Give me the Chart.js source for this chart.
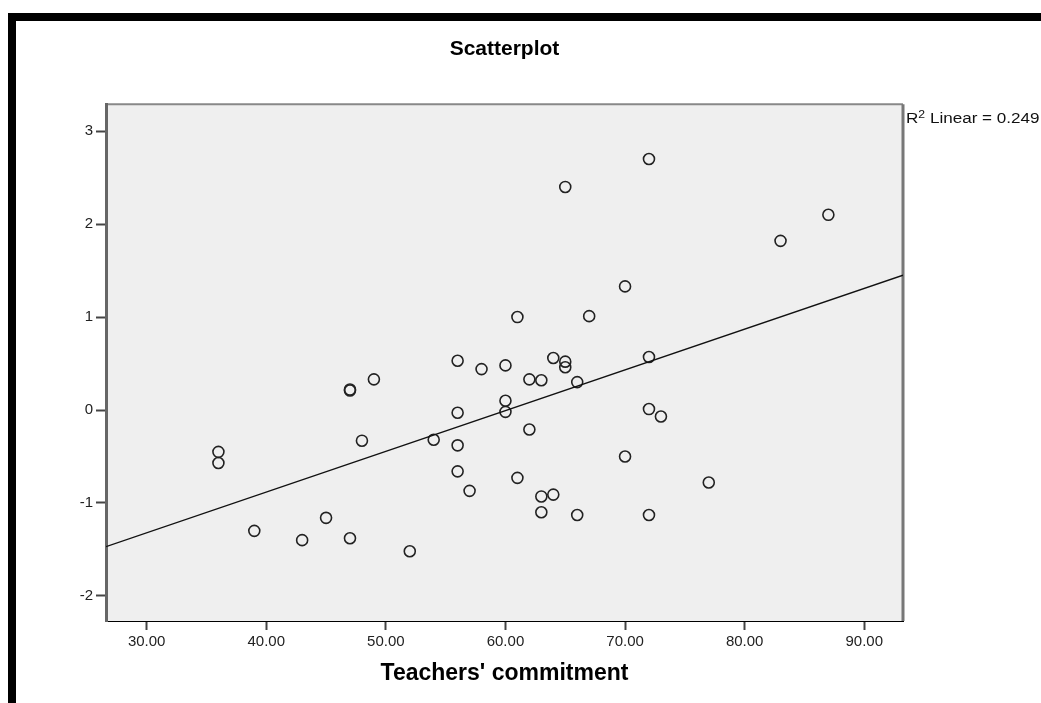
<!DOCTYPE html>
<html>
<head>
<meta charset="utf-8">
<script src="https://cdn.jsdelivr.net/npm/chart.js@4"></script>
<style>
  html, body { margin: 0; padding: 0; background: #fff; overflow: hidden; }
  #wrap { position: relative; width: 1041px; height: 703px; overflow: hidden; }
  #frame { position: absolute; left: 8px; top: 13px; width: 1100px; height: 800px;
           border-top: 8px solid #000; border-left: 8px solid #000; }
  #r2 { position: absolute; left: 906px; top: 108px; font: 14px "Liberation Sans", Arial, sans-serif;
        color: #111; white-space: nowrap; transform: scaleX(1.22); transform-origin: left top; }
  #r2 sup { font-size: 10px; position: relative; top: 1px; }
  canvas { position: absolute; left: 0; top: 0; }
</style>
</head>
<body>
<div id="wrap">
  <div id="frame"></div>
  <canvas id="scatter" width="1041" height="703"></canvas>
  <div id="r2">R<sup>2</sup> Linear = 0.249</div>
</div>
<script>
// values
var commitment = [36, 36, 39, 43, 45, 47, 47, 47, 48, 49, 52, 54,
  56, 56, 56, 56, 57, 58, 60, 60, 60, 61, 61, 62, 62, 63, 63, 63,
  64, 64, 65, 65, 65, 66, 66, 67, 70, 70, 72, 72, 72, 72, 73, 77, 83, 87];
var scores = [-0.45, -0.57, -1.30, -1.40, -1.16, 0.21, 0.22, -1.38, -0.33, 0.33, -1.52, -0.32,
  0.53, -0.03, -0.38, -0.66, -0.87, 0.44, 0.48, 0.10, -0.02, 1.00, -0.73, 0.33, -0.21, 0.32, -0.93, -1.10,
  0.56, -0.91, 2.40, 0.52, 0.46, 0.30, -1.13, 1.01, 1.33, -0.50, 2.70, 0.57, 0.01, -1.13, -0.07, -0.78, 1.82, 2.10];
// fit line end points at the plot edges
var fitX = [26.6, 93.24];
var fitY = [-1.47, 1.45];
var xTicks = [30, 40, 50, 60, 70, 80, 90];
var yTicks = [-2, -1, 0, 1, 2, 3];

var font = '"Liberation Sans", Arial, sans-serif';

var points = commitment.map(function (x, i) { return { x: x, y: scores[i] }; });
var fitLine = fitX.map(function (x, i) { return { x: x, y: fitY[i] }; });

// grey plot panel with thin frame on top and right
var panel = {
  id: 'panel',
  beforeDraw: function (chart) {
    var a = chart.chartArea, c = chart.ctx;
    c.save();
    c.fillStyle = '#efefef';
    c.fillRect(a.left, a.top, a.right - a.left, a.bottom - a.top);
    c.strokeStyle = '#888';
    c.lineWidth = 2;
    c.beginPath();
    c.moveTo(a.left, a.top);
    c.lineTo(a.right, a.top);
    c.stroke();
    c.strokeStyle = '#777';
    c.lineWidth = 3;
    c.beginPath();
    c.moveTo(a.right, a.top);
    c.lineTo(a.right, a.bottom);
    c.stroke();
    c.restore();
  }
};

var ctx = document.getElementById('scatter').getContext('2d');
var chart = new Chart(ctx, {
  type: 'scatter',
  data: {
    datasets: [{
      type: 'line',
      data: fitLine,
      borderColor: '#111',
      borderWidth: 1.3,
      pointRadius: 0,
      fill: false
    }, {
      data: points,
      pointRadius: 5.5,
      pointBorderWidth: 1.6,
      borderColor: '#222',
      backgroundColor: 'rgba(0,0,0,0)'
    }]
  },
  options: {
    responsive: false,
    animation: false,
    layout: { padding: { left: 0, right: 138, top: 0, bottom: 0 } },
    plugins: {
      legend: { display: false },
      tooltip: { enabled: false },
      title: {
        display: true,
        text: 'Scatterplot',
        fullSize: false,
        color: '#000',
        font: { family: font, size: 21, weight: 'bold' },
        padding: { top: 37, bottom: 42 }
      }
    },
    scales: {
      x: {
        type: 'linear',
        min: 26.6,
        max: 93.24,
        afterFit: function (s) { s.height = 82; },
        afterBuildTicks: function (s) { s.ticks = xTicks.map(function (v) { return { value: v }; }); },
        grid: { drawOnChartArea: false, tickLength: 9, tickWidth: 2, tickColor: '#444' },
        border: { color: '#000', width: 1 },
        ticks: {
          color: '#222',
          padding: 3,
          maxRotation: 0,
          font: { family: font, size: 15 },
          callback: function (v) { return v.toFixed(2); }
        },
        title: {
          display: true,
          text: "Teachers' commitment",
          color: '#000',
          font: { family: font, size: 23, weight: 'bold' },
          padding: { top: 0, bottom: 16 }
        }
      },
      y: {
        type: 'linear',
        min: -2.27,
        max: 3.29,
        afterFit: function (s) { s.width = 106; },
        afterBuildTicks: function (s) { s.ticks = yTicks.map(function (v) { return { value: v }; }); },
        grid: { drawOnChartArea: false, tickLength: 10, tickWidth: 2, tickColor: '#444' },
        border: { color: '#666', width: 3 },
        ticks: {
          color: '#222',
          padding: 3,
          font: { family: font, size: 15 }
        }
      }
    }
  },
  plugins: [panel]
});
</script>
</body>
</html>
